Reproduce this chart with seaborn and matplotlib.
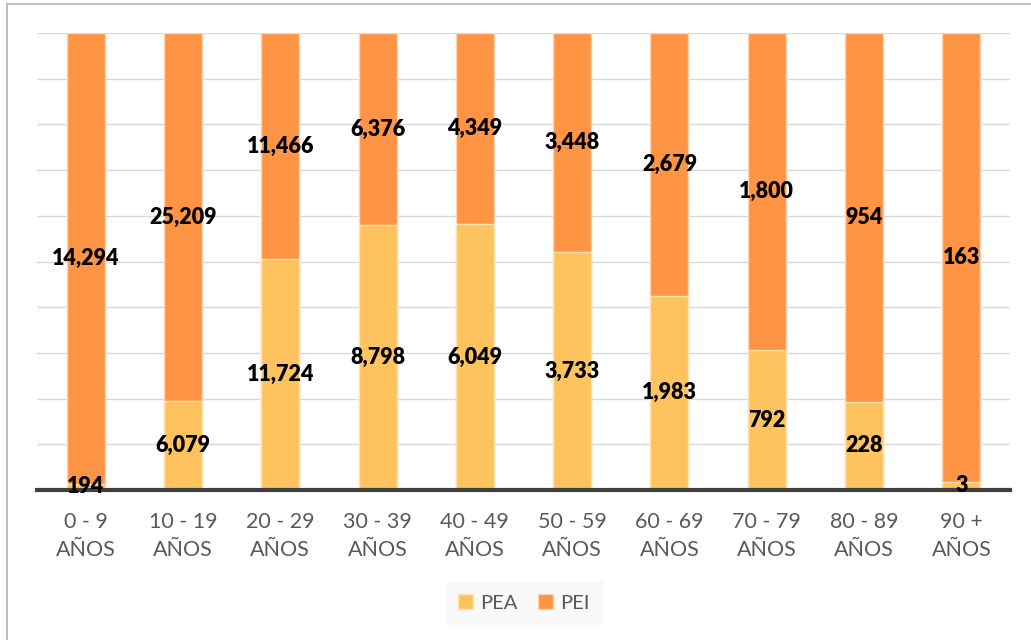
import matplotlib
matplotlib.use("Agg")
import matplotlib.pyplot as plt
import seaborn as sns
import pandas as pd
import numpy as np
from matplotlib.patches import Rectangle, Patch

categories = ["0 - 9\nAÑOS", "10 - 19\nAÑOS", "20 - 29\nAÑOS", "30 - 39\nAÑOS", "40 - 49\nAÑOS",
              "50 - 59\nAÑOS", "60 - 69\nAÑOS", "70 - 79\nAÑOS", "80 - 89\nAÑOS", "90 +\nAÑOS"]
pea = [194, 6079, 11724, 8798, 6049, 3733, 1983, 792, 228, 3]
pei = [14294, 25209, 11466, 6376, 4349, 3448, 2679, 1800, 954, 163]

c_pea = "#FEC35E"
c_pei = "#FE9444"

sns.set_theme(style="white")
plt.rcParams['font.family'] = ['Lato', 'DejaVu Sans']

df = pd.DataFrame({"cat": categories, "PEA": pea, "PEI": pei})
df["total"] = df["PEA"] + df["PEI"]
df["pea_pct"] = df["PEA"] / df["total"] * 100
df["all_pct"] = 100.0

fig = plt.figure(figsize=(10.31, 6.4), dpi=100)
ax = fig.add_axes([37/1031, 1-490/640, (1010-37)/1031, (490-33)/640])

sns.barplot(data=df, x="cat", y="all_pct", color=c_pei, width=0.39, ax=ax,
            edgecolor="#FFD2B0", linewidth=1.0, saturation=1)
sns.barplot(data=df, x="cat", y="pea_pct", color=c_pea, width=0.39, ax=ax,
            edgecolor="#FFE3B0", linewidth=1.0, saturation=1)

ax.set_ylim(0, 100)
ax.set_xlim(-0.5, len(categories) - 0.5)
ax.set_yticks(np.arange(0, 101, 10))
ax.set_yticklabels([])
ax.yaxis.grid(True, color="#D9D9D9", linewidth=1)
ax.set_axisbelow(True)
for s in ["top", "right", "left"]:
    ax.spines[s].set_visible(False)
ax.spines["bottom"].set_color("#404040")
ax.spines["bottom"].set_linewidth(3)
ax.spines["bottom"].set_zorder(5)
ax.tick_params(axis="y", length=0)
ax.tick_params(axis="x", length=0, pad=16, labelsize=15.5, labelcolor="#595959")
for lbl in ax.get_xticklabels():
    lbl.set_linespacing(1.5)
ax.set_xlabel("")
ax.set_ylabel("")

for i, row in df.iterrows():
    p = row["pea_pct"]
    ax.text(i, p / 2, f"{row['PEA']:,}", ha="center", va="center", fontsize=15.5,
            fontweight="heavy", color="black", zorder=6)
    ax.text(i, p + (100 - p) / 2, f"{row['PEI']:,}", ha="center", va="center", fontsize=15.5,
            fontweight="heavy", color="black", zorder=6)

handles = [Patch(facecolor=c_pea, edgecolor="#FFE3B0", label="PEA"),
           Patch(facecolor=c_pei, edgecolor="#FFD2B0", label="PEI")]
leg = fig.legend(handles=handles, loc="center", bbox_to_anchor=(524/1031, 1-603/640), ncol=2,
                 frameon=True, fontsize=14.5, handlelength=0.75, handleheight=0.75,
                 handletextpad=0.35, columnspacing=1.0, borderpad=0.6, fancybox=False)
leg.get_frame().set_facecolor("#F8F8F8")
leg.get_frame().set_edgecolor("#F8F8F8")
for t in leg.get_texts():
    t.set_color("#595959")

fig.patches.append(Rectangle((7/1031, -0.02), 1.05, 1 - 4/640 + 0.02, transform=fig.transFigure,
                             fill=False, edgecolor="#BFBFBF", linewidth=1.5))

fig.savefig("out.png", dpi=100)
